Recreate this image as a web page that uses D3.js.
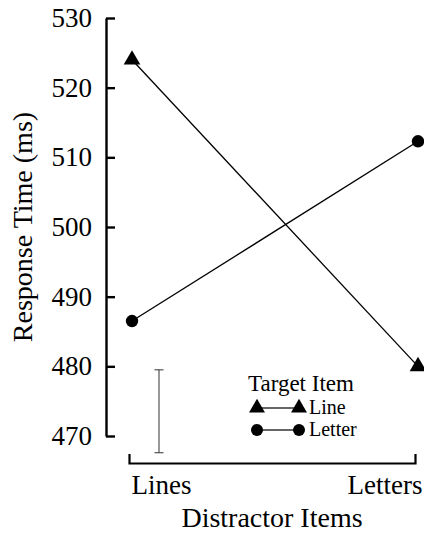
<!DOCTYPE html>
<html>
<head>
<meta charset="utf-8">
<script src="https://cdn.jsdelivr.net/npm/d3@7/dist/d3.min.js"></script>
<style>
  html, body { margin: 0; padding: 0; background: #fff; }
  svg { display: block; font-family: "Liberation Serif", "Times New Roman", serif; }
</style>
</head>
<body>
<svg id="chart" width="424" height="533"></svg>
<script>
// Distractor conditions on the x axis
const categories = ["Lines", "Letters"];
// Mean response times (ms) per target item
const lineTarget = [524, 480];
const letterTarget = [486.5, 512.3];
const seriesNames = ["Line", "Letter"];
// y axis ticks
const yTicks = [470, 480, 490, 500, 510, 520, 530];
// error bar (ms): top and bottom
const errorBar = [479.5, 467.6];

const svg = d3.select("#chart");

const y = d3.scaleLinear().domain([470, 530]).range([436, 18]);
const x = d3.scalePoint().domain(categories).range([132, 418]);

// y axis: ticks point inward
const yAxis = svg.append("g")
  .attr("transform", "translate(106,0)")
  .call(d3.axisLeft(y).tickValues(yTicks).tickSizeInner(-9).tickSizeOuter(0).tickPadding(14).tickFormat(d3.format("d")));
yAxis.selectAll("path, line").attr("stroke", "#000").attr("stroke-width", 2.4);
yAxis.selectAll("text").attr("font-size", 27).attr("fill", "#000").attr("font-family", "Liberation Serif");

// x axis: baseline with upward end ticks
const xAxis = svg.append("g")
  .attr("transform", "translate(0,463)")
  .call(d3.axisBottom(x).tickSizeInner(0).tickSizeOuter(-9).tickPadding(12));
xAxis.select(".domain").attr("stroke", "#000").attr("stroke-width", 2.2).attr("transform", "translate(-3,0)");
xAxis.selectAll(".tick line").remove();
xAxis.selectAll("text")
  .attr("font-size", 27).attr("fill", "#000").attr("font-family", "Liberation Serif")
  .attr("text-anchor", (d, i) => i === 0 ? "start" : "end")
  .attr("dx", (d, i) => i === 0 ? "-1" : "4")
  .attr("dy", "0.71em");

// axis titles
svg.append("text")
  .attr("transform", "translate(32,227) rotate(-90)")
  .attr("text-anchor", "middle")
  .attr("font-size", 28)
  .text("Response Time (ms)");
svg.append("text")
  .attr("x", 272).attr("y", 527)
  .attr("text-anchor", "middle")
  .attr("font-size", 28)
  .text("Distractor Items");

// error bar
const ebX = 159;
const eb = svg.append("g").attr("stroke", "#444").attr("stroke-width", 1.1);
eb.append("line").attr("x1", ebX).attr("x2", ebX).attr("y1", y(errorBar[0])).attr("y2", y(errorBar[1]));
eb.append("line").attr("x1", ebX - 4.5).attr("x2", ebX + 4.5).attr("y1", y(errorBar[0])).attr("y2", y(errorBar[0]));
eb.append("line").attr("x1", ebX - 4.5).attr("x2", ebX + 4.5).attr("y1", y(errorBar[1])).attr("y2", y(errorBar[1]));

const line = d3.line().x((d, i) => x(categories[i])).y(d => y(d));
const triangle = d3.symbol().type(d3.symbolTriangle).size(120);
const triangleSmall = d3.symbol().type(d3.symbolTriangle).size(110);

// series lines
svg.append("path").datum(lineTarget).attr("d", line)
  .attr("fill", "none").attr("stroke", "#000").attr("stroke-width", 1.3);
svg.append("path").datum(letterTarget).attr("d", line)
  .attr("fill", "none").attr("stroke", "#000").attr("stroke-width", 1.3);

// markers
svg.selectAll(".tri").data(lineTarget).join("path")
  .attr("class", "tri")
  .attr("transform", (d, i) => `translate(${x(categories[i])},${y(d)})`)
  .attr("d", triangle).attr("fill", "#000");
svg.selectAll(".dot").data(letterTarget).join("circle")
  .attr("class", "dot")
  .attr("cx", (d, i) => x(categories[i])).attr("cy", d => y(d))
  .attr("r", 6.2).attr("fill", "#000");

// legend
const lg = svg.append("g");
lg.append("text").attr("x", 248).attr("y", 391).attr("font-size", 23).text("Target Item");
const rows = [408, 430];
const lx = [257, 299];
seriesNames.forEach((name, i) => {
  const ry = rows[i];
  lg.append("line").attr("x1", lx[0]).attr("x2", lx[1]).attr("y1", ry).attr("y2", ry)
    .attr("stroke", "#333").attr("stroke-width", 1.5);
  lx.forEach(px => {
    if (i === 0) {
      lg.append("path").attr("transform", `translate(${px},${ry})`).attr("d", triangleSmall).attr("fill", "#000");
    } else {
      lg.append("circle").attr("cx", px).attr("cy", ry).attr("r", 6).attr("fill", "#000");
    }
  });
  lg.append("text").attr("x", 309).attr("y", ry + 6).attr("font-size", 20).text(name);
});
</script>
</body>
</html>
